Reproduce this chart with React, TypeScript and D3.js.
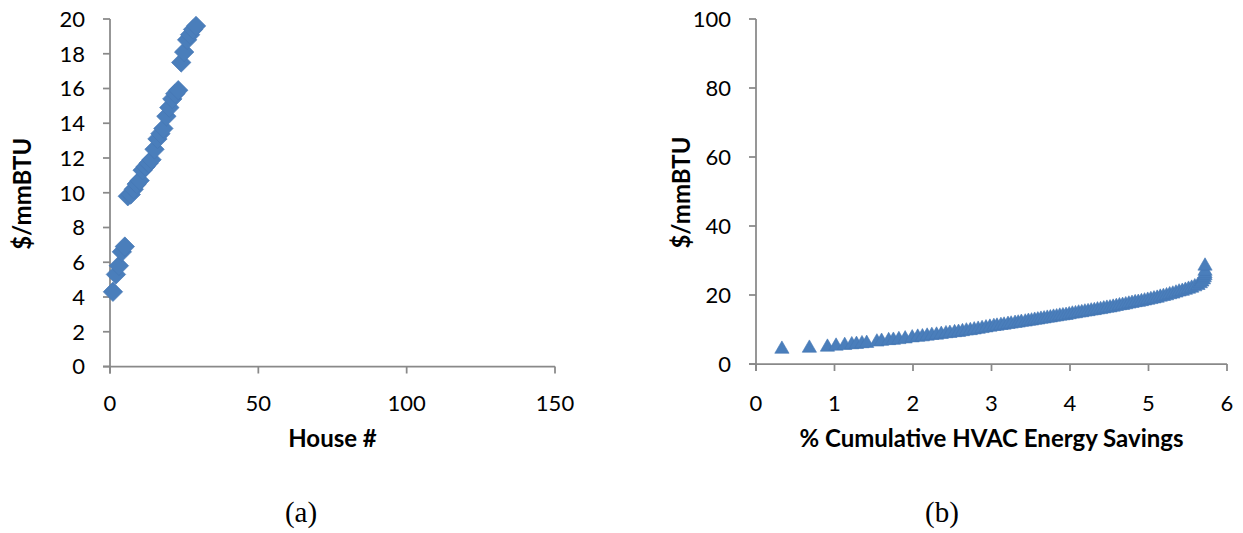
import React from 'react';
import * as d3 from 'd3';

const W = 1243;
const H = 533;

// Panel (a): cost per house
const houseNumbers = [1, 2, 3, 4, 5, 6, 7, 8, 9, 10, 11, 12, 13, 14, 15, 16, 17, 18, 19, 20, 21, 22, 23, 24, 25, 26, 27, 28, 29];
const houseCost = [4.3, 5.3, 5.8, 6.6, 6.9, 9.8, 9.9, 10.2, 10.5, 10.7, 11.3, 11.5, 11.7, 11.9, 12.5, 13.1, 13.4, 13.7, 14.4, 14.9, 15.4, 15.7, 15.9, 17.5, 18.1, 18.8, 19.1, 19.4, 19.6];
const leftXTicks = [0, 50, 100, 150];
const leftYTicks = [0, 2, 4, 6, 8, 10, 12, 14, 16, 18, 20];

// Panel (b): cost vs cumulative savings
const savingsPct = [
  0.33, 0.68, 0.91, 1.02, 1.13, 1.22, 1.28, 1.35, 1.41, 1.54, 1.6, 1.69, 1.75, 1.82, 1.9, 1.99,
  2.06, 2.12, 2.18, 2.24, 2.3, 2.36, 2.42, 2.47, 2.53, 2.58, 2.63, 2.68, 2.73, 2.78, 2.83, 2.88, 2.93, 2.98,
  3.03, 3.07, 3.12, 3.16, 3.21, 3.25, 3.3, 3.34, 3.38, 3.43, 3.47, 3.51, 3.55, 3.59, 3.63, 3.67, 3.71, 3.75, 3.79, 3.83, 3.87, 3.91, 3.95, 3.99,
  4.03, 4.07, 4.11, 4.15, 4.19, 4.23, 4.27, 4.31, 4.35, 4.39, 4.43, 4.47, 4.51, 4.55, 4.59, 4.63, 4.67, 4.71, 4.75, 4.79, 4.83, 4.87, 4.91, 4.95, 4.99,
  5.03, 5.07, 5.11, 5.15, 5.19, 5.23, 5.27, 5.31, 5.35, 5.39, 5.43, 5.47, 5.51, 5.55, 5.59, 5.63, 5.66, 5.68, 5.7, 5.71, 5.72, 5.72, 5.72, 5.72,
];
const savingsCost = [
  4.3, 4.6, 4.9, 5.2, 5.4, 5.6, 5.7, 5.9, 6.0, 6.4, 6.6, 6.8, 6.9, 7.1, 7.3, 7.6,
  7.8, 7.9, 8.1, 8.3, 8.4, 8.6, 8.8, 8.9, 9.1, 9.2, 9.4, 9.6, 9.7, 9.9, 10.1, 10.3, 10.5, 10.7,
  10.9, 11.0, 11.2, 11.3, 11.5, 11.6, 11.8, 11.9, 12.1, 12.2, 12.4, 12.5, 12.7, 12.8, 13.0, 13.1, 13.3, 13.4, 13.6, 13.7, 13.9, 14.0, 14.1, 14.3,
  14.5, 14.6, 14.8, 14.9, 15.1, 15.2, 15.4, 15.5, 15.7, 15.8, 16.0, 16.2, 16.3, 16.5, 16.7, 16.9, 17.0, 17.2, 17.4, 17.6, 17.8, 17.9, 18.1, 18.3, 18.5,
  18.7, 18.9, 19.1, 19.4, 19.6, 19.8, 20.1, 20.3, 20.6, 20.9, 21.1, 21.4, 21.7, 22.0, 22.4, 22.8, 23.3, 23.8, 24.4, 25.0, 25.6, 26.2, 26.9, 28.4,
];
const rightXTicks = [0, 1, 2, 3, 4, 5, 6];
const rightYTicks = [0, 20, 40, 60, 80, 100];

const AXIS = '#898989';
const MARK = '#4a7ebb';
const SANS = 'Lato, "Open Sans", sans-serif';
const SERIF = '"Liberation Serif", "Times New Roman", serif';

type PanelProps = {
  xs: d3.ScaleLinear<number, number>;
  ys: d3.ScaleLinear<number, number>;
  xTicks: number[];
  yTicks: number[];
  xs_data: number[];
  ys_data: number[];
  symbol: d3.SymbolType;
  size: number;
  rotate: number;
  xTitle: string;
  yTitle: string;
  yTitleX: number;
  caption: string;
  captionX: number;
};

function Panel(p: PanelProps) {
  const [x0, x1] = p.xs.range();
  const [y0, y1] = p.ys.range();
  const sym = d3.symbol().type(p.symbol).size(p.size)() || '';
  const tick = 7;
  const midX = (x0 + x1) / 2;
  return (
    <g>
      {/* y axis */}
      <line x1={x0} x2={x0} y1={y1} y2={y0 + tick} stroke={AXIS} strokeWidth={1.75} />
      {p.yTicks.map((t) => (
        <g key={'y' + t}>
          <line x1={x0 - tick} x2={x0} y1={p.ys(t)} y2={p.ys(t)} stroke={AXIS} strokeWidth={1.75} />
          <text x={x0 - 25} y={p.ys(t)} dy="0.36em" textAnchor="end" fontFamily={SANS} fontSize={22} fill="#000">
            {t}
          </text>
        </g>
      ))}
      {/* x axis */}
      <line x1={x0 - tick} x2={x1} y1={y0} y2={y0} stroke={AXIS} strokeWidth={1.75} />
      {p.xTicks.map((t) => (
        <g key={'x' + t}>
          <line x1={p.xs(t)} x2={p.xs(t)} y1={y0} y2={y0 + tick} stroke={AXIS} strokeWidth={1.75} />
          <text x={p.xs(t)} y={411} textAnchor="middle" fontFamily={SANS} fontSize={22} fill="#000">
            {t}
          </text>
        </g>
      ))}
      {/* marks */}
      {p.xs_data.map((v, i) => (
        <path
          key={'m' + i}
          d={sym}
          transform={`translate(${p.xs(v)},${p.ys(p.ys_data[i])}) rotate(${p.rotate})`}
          fill={MARK}
          stroke="#4577b4"
          strokeWidth={0.6}
        />
      ))}
      <text x={midX} y={447} textAnchor="middle" fontFamily={SANS} fontSize={24} fontWeight="bold" fill="#000">
        {p.xTitle}
      </text>
      <text
        transform={`translate(${p.yTitleX},${(y0 + y1) / 2 + 1}) rotate(-90)`}
        textAnchor="middle"
        dy="0.36em"
        fontFamily={SANS}
        fontSize={24}
        fontWeight="bold"
        fill="#000"
      >
        {p.yTitle}
      </text>
      <text x={p.captionX} y={522} textAnchor="middle" fontFamily={SERIF} fontSize={29} fill="#000">
        {p.caption}
      </text>
    </g>
  );
}

export default function App() {
  const xa = d3.scaleLinear().domain([0, 150]).range([110, 555]);
  const ya = d3.scaleLinear().domain([0, 20]).range([366.5, 19]);
  const xb = d3.scaleLinear().domain([0, 6]).range([756, 1227]);
  const yb = d3.scaleLinear().domain([0, 100]).range([364, 19]);
  return (
    <svg width={W} height={H} style={{ position: 'absolute', left: 0, top: 0, background: '#fff' }}>
      <rect width={W} height={H} fill="#fff" />
      <Panel
        xs={xa}
        ys={ya}
        xTicks={leftXTicks}
        yTicks={leftYTicks}
        xs_data={houseNumbers}
        ys_data={houseCost}
        symbol={d3.symbolSquare}
        size={190}
        rotate={45}
        xTitle="House #"
        yTitle="$/mmBTU"
        yTitleX={22}
        caption="(a)"
        captionX={301}
      />
      <Panel
        xs={xb}
        ys={yb}
        xTicks={rightXTicks}
        yTicks={rightYTicks}
        xs_data={savingsPct}
        ys_data={savingsCost}
        symbol={d3.symbolTriangle}
        size={88}
        rotate={0}
        xTitle="% Cumulative HVAC Energy Savings"
        yTitle="$/mmBTU"
        yTitleX={681}
        caption="(b)"
        captionX={942}
      />
    </svg>
  );
}
